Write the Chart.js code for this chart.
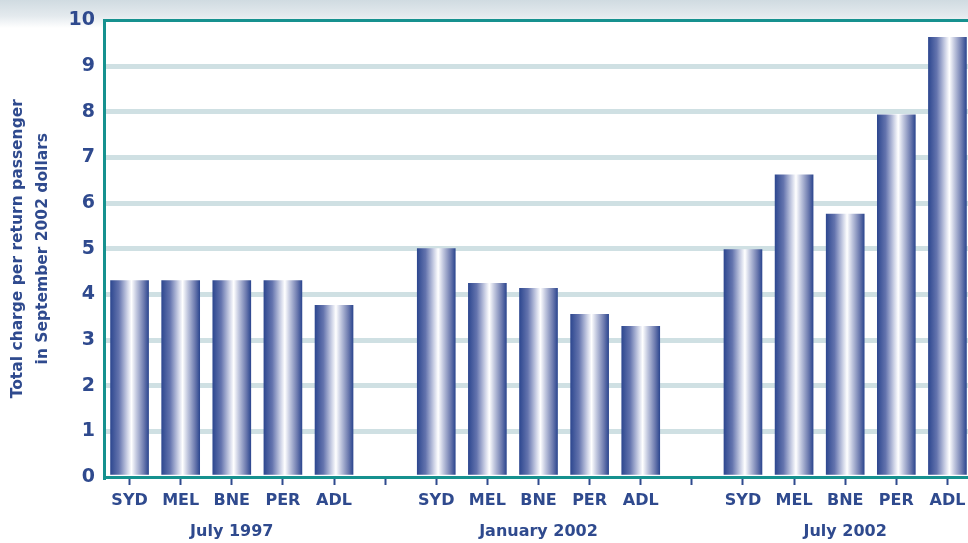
<!DOCTYPE html>
<html>
<head>
<meta charset="utf-8">
<script src="https://cdn.jsdelivr.net/npm/chart.js@4.4.0/dist/chart.umd.min.js"></script>
<style>
  body { margin: 0; background: linear-gradient(to bottom, #d0dbe1 0px, #e4eaee 16px, #ffffff 28px); }
  #wrap { width: 968px; height: 543px; overflow: hidden; }
</style>
</head>
<body>
<div id="wrap"><canvas id="myChart" width="973" height="543"></canvas></div>
<script>
let cities = ['SYD', 'MEL', 'BNE', 'PER', 'ADL'];
let periods = ['July 1997', 'January 2002', 'July 2002'];
let july1997 = [4.3, 4.3, 4.3, 4.3, 3.76];
let jan2002 = [5.0, 4.24, 4.13, 3.56, 3.3];
let july2002 = [4.98, 6.62, 5.76, 7.93, 9.63];
let yTicks = [0, 1, 2, 3, 4, 5, 6, 7, 8, 9, 10];

let navy = '#2f4a8e';
let teal = '#16918f';
let barWidth = 38;

// one slot per bar plus an empty slot between the periods
let labels = [];
let values = [];
[july1997, jan2002, july2002].forEach(function(series, p) {
    if (p > 0) {
        labels.push('');
        values.push(null);
    }
    series.forEach(function(v, i) {
        labels.push(i === 2 ? [cities[i], periods[p]] : cities[i]);
        values.push(v);
    });
});

function barFill(context) {
    let chart = context.chart;
    let x = chart.scales.x;
    if (!x || !chart.chartArea) return navy;
    let cx = x.getPixelForValue(context.dataIndex);
    let g = chart.ctx.createLinearGradient(cx - barWidth / 2, 0, cx + barWidth / 2, 0);
    g.addColorStop(0, '#2e4890');
    g.addColorStop(0.22, '#6474ae');
    g.addColorStop(0.44, '#cdd2e6');
    g.addColorStop(0.55, '#ffffff');
    g.addColorStop(0.68, '#c2c8df');
    g.addColorStop(0.88, '#6b79ae');
    g.addColorStop(1, '#2e4890');
    return g;
}

let whiteArea = {
    id: 'whiteArea',
    beforeDraw: function(chart) {
        let a = chart.chartArea;
        chart.ctx.save();
        chart.ctx.fillStyle = '#ffffff';
        chart.ctx.fillRect(a.left, a.top, a.right - a.left, a.bottom - a.top);
        chart.ctx.restore();
    }
};

let ctx = document.getElementById('myChart').getContext('2d');
let chart = new Chart(ctx, {
    type: 'bar',
    data: {
        labels: labels,
        datasets: [{
            data: values,
            backgroundColor: barFill,
            barThickness: barWidth,
            borderWidth: 0
        }]
    },
    options: {
        responsive: false,
        animation: false,
        layout: { padding: { top: 15.5, left: 0, right: 0, bottom: 0 } },
        plugins: {
            legend: { display: false },
            tooltip: { enabled: false }
        },
        scales: {
            x: {
                offset: true,
                afterFit: function(scale) { scale.height = 66; },
                border: { color: teal, width: 3 },
                grid: {
                    offset: false,
                    drawOnChartArea: false,
                    drawTicks: true,
                    tickLength: 8,
                    tickColor: navy,
                    tickWidth: 2
                },
                ticks: {
                    autoSkip: false,
                    maxRotation: 0,
                    padding: 0,
                    color: navy,
                    font: { family: 'DejaVu Sans', weight: 'bold', size: 16, lineHeight: 1.95 }
                }
            },
            y: {
                min: yTicks[0],
                max: yTicks[yTicks.length - 1],
                afterFit: function(scale) { scale.width = 104; },
                afterBuildTicks: function(scale) {
                    scale.ticks = yTicks.map(function(v) { return { value: v }; });
                },
                border: { color: teal, width: 3 },
                grid: {
                    drawTicks: false,
                    color: function(c) {
                        if (c.tick.value === 10) return teal;
                        if (c.tick.value === 0) return 'rgba(0,0,0,0)';
                        return '#cfe0e3';
                    },
                    lineWidth: function(c) { return c.tick.value === 10 ? 3 : 5; }
                },
                ticks: {
                    padding: 9,
                    color: navy,
                    font: { family: 'DejaVu Sans', weight: 'bold', size: 19, lineHeight: 1.2 }
                },
                title: {
                    display: true,
                    text: ['Total charge per return passenger', 'in September 2002 dollars'],
                    color: navy,
                    padding: { top: 5.5, bottom: 0 },
                    font: { family: 'DejaVu Sans', weight: 'bold', size: 15.5, lineHeight: 1.62 }
                }
            }
        }
    },
    plugins: [whiteArea]
});
</script>
</body>
</html>
